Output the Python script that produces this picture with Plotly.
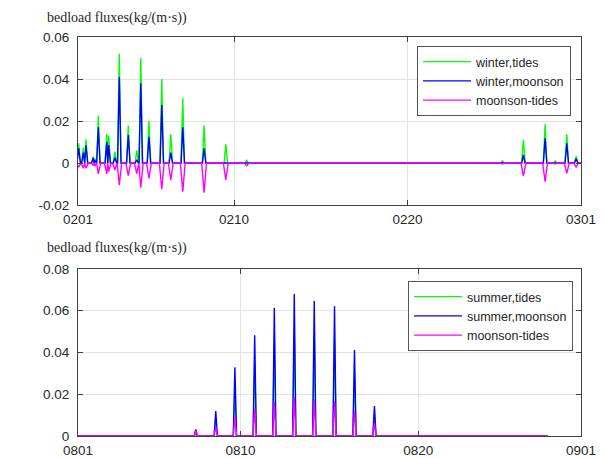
import plotly.graph_objects as go
from plotly.subplots import make_subplots

# ---------------- data ----------------
# Top panel (February), time in days since 0201
feb_tick_days = [0, 9, 19, 29]
feb_tick_labels = ["0201", "0210", "0220", "0301"]
feb_peak_days = [0.04, 0.31, 0.46, 0.88, 0.98, 1.17, 1.66, 1.77, 2.13, 2.38, 2.90,
                 3.39, 3.62, 4.09, 4.83, 5.35, 6.04, 7.27, 8.52, 9.73,
                 24.47, 25.68, 26.93, 27.51, 28.18, 28.72]
winter_tides = [0.0094, 0.0073, 0.0113, 0.0030, 0.0020, 0.0225, 0.0138, 0.0130, 0.0054,
                0.0520, 0.0178, 0.0060, 0.0500, 0.0200, 0.0400, 0.0137, 0.0308, 0.0180,
                0.0089, 0.0013, 0.0010, 0.0110, 0.0184, 0.0010, 0.0137, 0.0033]
winter_moonson = [0.0070, 0.0050, 0.0084, 0.0025, 0.0010, 0.0170, 0.0100, 0.0085, 0.0025,
                  0.0410, 0.0133, 0.0015, 0.0380, 0.0125, 0.0276, 0.0050, 0.0170, 0.0070,
                  0.0000, 0.0000, 0.0000, 0.0038, 0.0118, 0.0000, 0.0094, 0.0020]
winter_diff = [-0.0020, -0.0025, -0.0025, -0.0010, -0.0015, -0.0052, -0.0052, -0.0040,
               -0.0033, -0.0105, -0.0060, -0.0050, -0.0117, -0.0073, -0.0125, -0.0081,
               -0.0137, -0.0141, -0.0081, -0.0013, -0.0005, -0.0062, -0.0089, -0.0005,
               -0.0049, -0.0020]
feb_end_day = 29.0
feb_y_ticks = [-0.02, 0, 0.02, 0.04, 0.06]
feb_y_labels = ["-0.02", "0", "0.02", "0.04", "0.06"]

# Bottom panel (August), time axis in days since 0801
aug_tick_days = [0, 10.02, 20.97, 31]
aug_tick_labels = ["0801", "0810", "0820", "0901"]
aug_peak_days = [7.26, 8.49, 9.67, 10.89, 12.10, 13.33, 14.56, 15.81, 17.04, 18.27]
summer_tides = [0.0007, 0.0075, 0.0237, 0.0352, 0.0450, 0.0495, 0.0475, 0.0453, 0.0292, 0.0082]
summer_moonson = [0.0032, 0.0120, 0.0329, 0.0482, 0.0614, 0.0680, 0.0647, 0.0621, 0.0412, 0.0143]
summer_diff = [0.0025, 0.0045, 0.0092, 0.0130, 0.0164, 0.0185, 0.0172, 0.0168, 0.0120, 0.0061]
aug_end_day = 28.95
aug_y_ticks = [0, 0.02, 0.04, 0.06, 0.08]
aug_y_labels = ["0", "0.02", "0.04", "0.06", "0.08"]

SPIKE_HALF = 0.10   # half duration of one flux event, days
DIP_HALF = 0.14


def event_series(times, peaks, half, t_end):
    xs, ys = [0.0], [0.0]
    n = len(times)
    for i, (t, p) in enumerate(zip(times, peaks)):
        left, right = t - half, t + half
        if i > 0:
            left = max(left, (times[i - 1] + t) / 2)
        if i < n - 1:
            right = min(right, (t + times[i + 1]) / 2)
        xs += [left, t, right]
        ys += [0.0, p, 0.0]
    xs.append(t_end)
    ys.append(0.0)
    return xs, ys


GREEN = "#00ff00"
BLUE = "#0000ff"
MAGENTA = "#ff00ff"
AXC = "#404040"
TXT = "#262626"

fig = make_subplots(rows=2, cols=1, vertical_spacing=0.16)

top = [("winter,tides", winter_tides, GREEN, SPIKE_HALF),
       ("winter,moonson", winter_moonson, BLUE, SPIKE_HALF),
       ("moonson-tides", winter_diff, MAGENTA, DIP_HALF)]
for name, vals, col, h in top:
    x, y = event_series(feb_peak_days, vals, h, feb_end_day)
    fig.add_trace(go.Scatter(x=x, y=y, mode="lines", name=name,
                             line=dict(color=col, width=1.4), legend="legend"),
                  row=1, col=1)

bot = [("summer,tides", summer_tides, GREEN, SPIKE_HALF),
       ("summer,moonson", summer_moonson, BLUE, SPIKE_HALF),
       ("moonson-tides", summer_diff, MAGENTA, SPIKE_HALF)]
for name, vals, col, h in bot:
    x, y = event_series(aug_peak_days, vals, h, aug_end_day)
    fig.add_trace(go.Scatter(x=x, y=y, mode="lines", name=name,
                             line=dict(color=col, width=1.4), legend="legend2"),
                  row=2, col=1)

FONT = "Liberation Sans, Arial, sans-serif"
axis_common = dict(showgrid=True, gridcolor="#e3e3e3", gridwidth=1,
                   showline=True, linecolor=AXC, linewidth=1, mirror="ticks",
                   ticks="inside", ticklen=5, tickcolor=AXC, zeroline=False,
                   automargin=False,
                   tickfont=dict(family=FONT, size=13.5, color=TXT))

fig.update_xaxes(ticklabelstandoff=2, **axis_common)
fig.update_yaxes(ticklabelstandoff=5, **axis_common)

fig.update_layout(
    xaxis=dict(domain=[0, 1], range=[0, 29], tickmode="array",
               tickvals=feb_tick_days, ticktext=feb_tick_labels),
    yaxis=dict(domain=[231 / 399, 1], range=[-0.02, 0.06], tickmode="array",
               tickvals=feb_y_ticks, ticktext=feb_y_labels),
    xaxis2=dict(domain=[0, 1], range=[0, 31], tickmode="array",
                tickvals=aug_tick_days, ticktext=aug_tick_labels),
    yaxis2=dict(domain=[0, 167 / 399], range=[0, 0.08], tickmode="array",
                tickvals=aug_y_ticks, ticktext=aug_y_labels),
)

legend_common = dict(bgcolor="white", bordercolor="#555555", borderwidth=1,
                     font=dict(family=FONT, size=12.5, color=TXT),
                     xref="paper", yref="paper",
                     xanchor="right", yanchor="top", itemwidth=48,
                     tracegroupgap=0)
fig.update_layout(
    legend=dict(x=(571 - 78) / 503, y=(436 - 46) / 399, **legend_common),
    legend2=dict(x=(573 - 78) / 503, y=(436 - 281) / 399, **legend_common),
)

title_text = "bedload fluxes(kg/(m·s))"
for yy in [(436 - 18) / 399, (436 - 248) / 399]:
    fig.add_annotation(text=title_text, xref="paper", yref="paper",
                       x=(45 - 78) / 503, y=yy, xanchor="left", yanchor="middle",
                       showarrow=False,
                       font=dict(family="Liberation Serif, Times New Roman, serif",
                                 size=14, color=TXT))

# the page body has an 8 px default margin; the figure is sized to sit inside it
fig.update_layout(template="none", width=596, height=450,
                  margin=dict(l=70, r=23, t=29, b=22, autoexpand=False),
                  paper_bgcolor="white", plot_bgcolor="white",
                  showlegend=True)

fig.write_html("out.html")
